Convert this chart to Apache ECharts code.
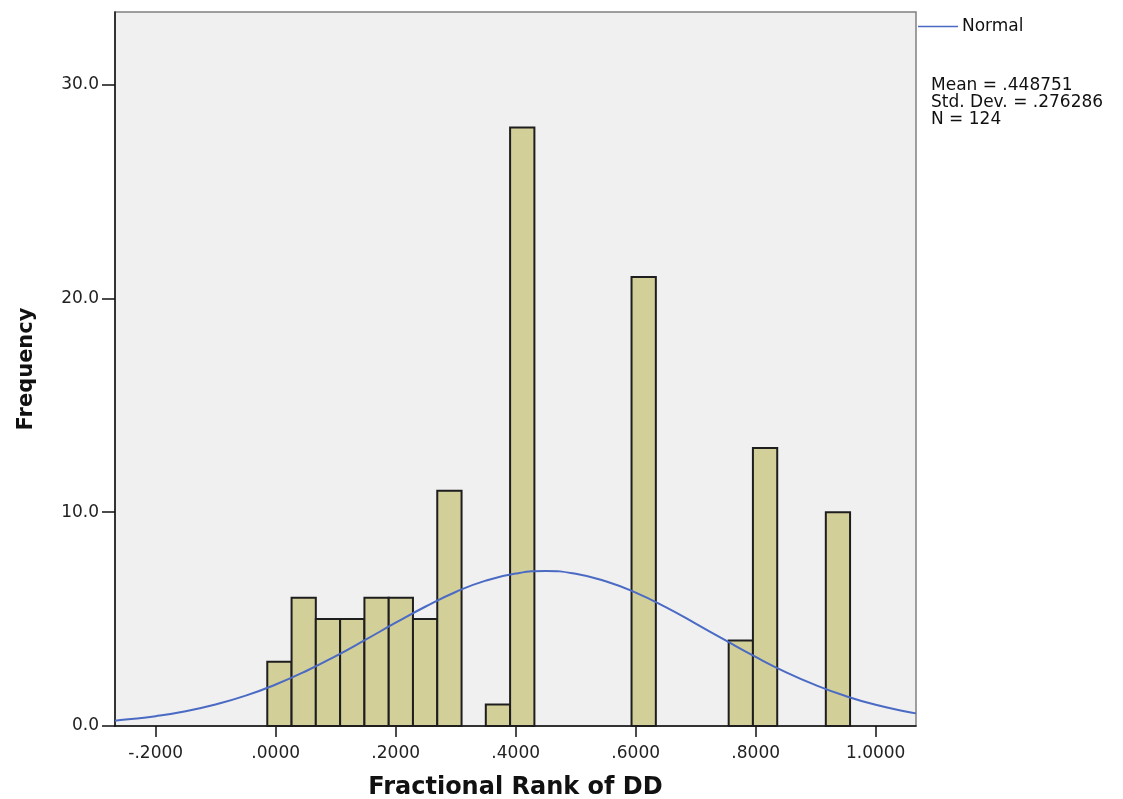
<!DOCTYPE html>
<html>
<head>
<meta charset="utf-8">
<script src="https://cdn.jsdelivr.net/npm/echarts@6/dist/echarts.min.js"></script>
<style>
html, body { margin: 0; padding: 0; background: #fff; }
#hist { width: 1123px; height: 799px; }
</style>
</head>
<body>
<div id="hist"></div>
<script>
// bin edges (lower / upper) and counts
var binLow  = [-0.0140, 0.0265, 0.0669, 0.1074, 0.1479, 0.1884, 0.2288, 0.2693, 0.3502, 0.3907, 0.5931, 0.7550, 0.7954, 0.9169];
var binHigh = [ 0.0265, 0.0669, 0.1074, 0.1479, 0.1884, 0.2288, 0.2693, 0.3098, 0.3907, 0.4312, 0.6336, 0.7954, 0.8359, 0.9573];
var counts  = [3, 6, 5, 5, 6, 6, 5, 11, 1, 28, 21, 4, 13, 10];

// normal curve
var curveX = [-0.2678, -0.25, -0.2, -0.15, -0.1, -0.05, 0.0, 0.05, 0.1, 0.15, 0.2, 0.25, 0.3, 0.35, 0.4, 0.45, 0.5, 0.55, 0.6, 0.65, 0.7, 0.75, 0.8, 0.85, 0.9, 0.95, 1.0, 1.05, 1.0672];
var curveY = [0.25, 0.30, 0.46, 0.69, 1.01, 1.42, 1.94, 2.56, 3.27, 4.04, 4.83, 5.59, 6.27, 6.80, 7.13, 7.25, 7.12, 6.77, 6.24, 5.56, 4.79, 4.00, 3.23, 2.52, 1.91, 1.40, 0.99, 0.68, 0.59];

var xTicks = [-0.2, 0, 0.2, 0.4, 0.6, 0.8, 1.0];
var yTicks = [0, 10, 20, 30];
var statLines = ['Mean = .448751', 'Std. Dev. = .276286', 'N = 124'];

var barData = [];
for (var i = 0; i < counts.length; i++) {
    barData.push([binLow[i], binHigh[i], counts[i]]);
}
var lineData = [];
for (var j = 0; j < curveX.length; j++) {
    lineData.push([curveX[j], curveY[j]]);
}

function fmtX(v) {
    var s = Math.abs(v).toFixed(4);
    if (s.charAt(0) === '0') s = s.substring(1);
    return (v < 0 ? '-' : '') + s;
}

var dom = document.getElementById('hist');
var chart = echarts.init(dom);
var option = {
    animation: false,
    backgroundColor: '#fff',
    textStyle: { fontFamily: 'DejaVu Sans' },
    grid: {
        left: 115,
        right: 207,
        top: 12,
        bottom: 73,
        outerBoundsMode: 'none',
        show: true,
        backgroundColor: '#f0f0f0',
        borderColor: '#808080',
        borderWidth: 1.5
    },
    legend: {
        left: 918,
        top: 18,
        padding: 0,
        icon: 'rect',
        itemWidth: 40,
        itemHeight: 1.6,
        itemGap: 4,
        textStyle: { fontSize: 17, color: '#111', fontFamily: 'DejaVu Sans', padding: [0, 0, 0, -1] },
        data: ['Normal']
    },
    xAxis: {
        type: 'value',
        min: -0.2678,
        max: 1.0672,
        name: 'Fractional Rank of DD',
        nameLocation: 'middle',
        nameGap: 50,
        nameTextStyle: { fontSize: 24, fontWeight: 'bold', color: '#111', fontFamily: 'DejaVu Sans' },
        axisLine: { show: true, onZero: false, lineStyle: { color: '#111', width: 1.5 } },
        axisTick: { show: true, length: 11, lineStyle: { color: '#111', width: 1.5 }, customValues: xTicks },
        axisLabel: { fontSize: 17, color: '#222', margin: 19, customValues: xTicks, formatter: fmtX },
        splitLine: { show: false }
    },
    yAxis: {
        type: 'value',
        min: 0,
        max: 33.4,
        name: 'Frequency',
        nameLocation: 'middle',
        nameGap: 78,
        nameTextStyle: { fontSize: 21, fontWeight: 'bold', color: '#111', fontFamily: 'DejaVu Sans' },
        axisLine: { show: true, onZero: false, lineStyle: { color: '#111', width: 1.5 } },
        axisTick: { show: true, length: 13, lineStyle: { color: '#111', width: 1.5 }, customValues: yTicks },
        axisLabel: { fontSize: 17, color: '#222', margin: 16, customValues: yTicks, formatter: function (v) { return v.toFixed(1); } },
        splitLine: { show: false }
    },
    graphic: [{
        type: 'text',
        left: 931,
        top: 77,
        style: {
            text: statLines.join('\n'),
            fontSize: 17,
            lineHeight: 17,
            fill: '#111',
            fontFamily: 'DejaVu Sans'
        }
    }],
    series: [{
        type: 'custom',
        name: 'Frequency',
        data: barData,
        encode: { x: [0, 1], y: 2 },
        renderItem: function (params, api) {
            var p0 = api.coord([api.value(0), api.value(2)]);
            var p1 = api.coord([api.value(1), 0]);
            return {
                type: 'rect',
                shape: { x: p0[0], y: p0[1], width: p1[0] - p0[0], height: p1[1] - p0[1] },
                style: { fill: '#d3cf98', stroke: '#1e1e1e', lineWidth: 2 }
            };
        }
    }, {
        type: 'line',
        name: 'Normal',
        data: lineData,
        smooth: true,
        symbol: 'none',
        lineStyle: { color: '#4a6ac4', width: 2 },
        itemStyle: { color: '#4a6ac4' },
        z: 5
    }]
};
chart.setOption(option);
window.addEventListener('resize', function () {
    chart.resize();
});
</script>
</body>
</html>
